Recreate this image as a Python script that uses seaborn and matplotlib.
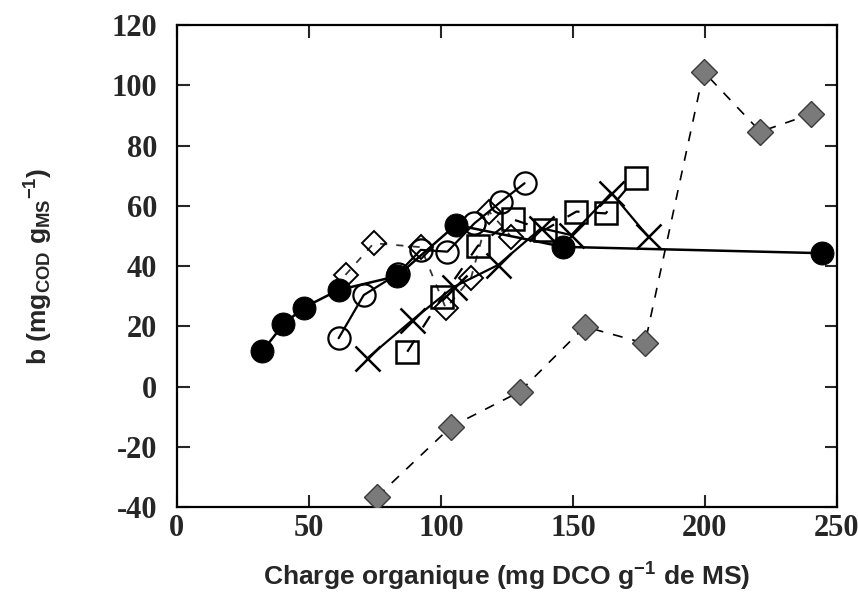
import numpy as np
import pandas as pd
import matplotlib
matplotlib.use('Agg')
import matplotlib.pyplot as plt
import seaborn as sns

# Data
filled_circ_x = [32.4, 40.4, 48.0, 61.3, 83.5, 105.7, 146.3, 244.2]
filled_circ_y = [11.8, 20.7, 26.2, 32.1, 36.7, 53.7, 46.4, 44.3]

open_circ_x = [61.3, 70.8, 83.6, 92.4, 102.5, 112.7, 122.8, 131.7]
open_circ_y = [16.1, 30.4, 37.4, 45.4, 44.8, 54.2, 61.4, 67.5]

cross_x = [72.1, 89.2, 104.9, 121.7, 138.0, 149.4, 164.6, 178.3]
cross_y = [9.4, 22.1, 33.1, 40.4, 52.6, 50.3, 64.3, 50.0]

square_x = [87.3, 100.6, 114.0, 127.3, 139.3, 151.3, 162.4, 173.9]
square_y = [11.6, 29.9, 46.7, 55.5, 52.0, 58.1, 57.5, 69.3]

open_diam_x = [63.9, 74.6, 92.4, 101.9, 111.4, 118.3, 126.6]
open_diam_y = [37.1, 47.6, 46.3, 26.0, 36.0, 58.1, 49.8]

grey_diam_x = [75.9, 103.8, 129.8, 154.5, 177.3, 199.5, 221.0, 240.0]
grey_diam_y = [-36.5, -13.3, -1.7, 19.9, 14.4, 104.5, 84.6, 90.4]

x_ticks = [0, 50, 100, 150, 200, 250]
y_ticks = [-40, -20, 0, 20, 40, 60, 80, 100, 120]

sns.set_style("ticks")
plt.rcParams['mathtext.default'] = 'regular'
plt.rcParams['axes.unicode_minus'] = False

fig = plt.figure(figsize=(8.58, 6.05), dpi=100)
ax = fig.add_axes([0.206, 0.1615, 0.7695, 0.7972])

ms = 16
# grey diamonds, dashed
sns.lineplot(x=grey_diam_x, y=grey_diam_y, ax=ax, color='black', lw=1.2,
             linestyle=(0, (6, 6)), marker='D', markersize=13.5,
             markerfacecolor='#7a7a7a', markeredgecolor='#3a3a3a',
             markeredgewidth=1.0, zorder=3)
# open diamonds, dashed
sns.lineplot(x=open_diam_x, y=open_diam_y, ax=ax, color='#333333', lw=1.3,
             linestyle=(0, (4, 5)), marker='D', markersize=12.5,
             markerfacecolor='none', markeredgecolor='black',
             markeredgewidth=1.4, zorder=3)
# open squares
sns.lineplot(x=square_x, y=square_y, ax=ax, color='black', lw=1.6,
             linestyle=(0, (6, 7)), marker='s', markersize=ms,
             markerfacecolor='none', markeredgecolor='black',
             markeredgewidth=1.8, zorder=4)
# crosses
sns.lineplot(x=cross_x, y=cross_y, ax=ax, color='black', lw=1.6,
             marker='x', markersize=18, markeredgewidth=1.8,
             markeredgecolor='black', zorder=4)
# open circles
sns.lineplot(x=open_circ_x, y=open_circ_y, ax=ax, color='black', lw=1.6,
             marker='o', markersize=ms, markerfacecolor='none',
             markeredgecolor='black', markeredgewidth=1.6, zorder=4)
# filled circles
sns.lineplot(x=filled_circ_x, y=filled_circ_y, ax=ax, color='black', lw=1.8,
             marker='o', markersize=ms + 0.5, markerfacecolor='black',
             markeredgecolor='black', zorder=5)

ax.set_xlim(0, 250)
ax.set_ylim(-40, 120)
ax.set_xticks(x_ticks)
ax.set_yticks(y_ticks)
ax.tick_params(direction='in', length=9, width=1.5, top=True, right=True)
ax.tick_params(axis='x', pad=5)
ax.tick_params(axis='y', pad=14)
for lab in ax.get_xticklabels() + ax.get_yticklabels():
    lab.set_fontfamily('Liberation Serif')
    lab.set_fontweight('bold')
    lab.set_fontsize(22)
for sp in ax.spines.values():
    sp.set_linewidth(1.6)
    sp.set_color('black')

ax.set_xlabel('Charge organique (mg DCO g$^{-1}$ de MS)', fontsize=19,
              fontweight='bold', family='Liberation Sans', labelpad=13)
ax.set_ylabel('b (mg$_{COD}$ g$_{MS}$$^{-1}$)', fontsize=19,
              fontweight='bold', family='Liberation Sans', labelpad=41)

fig.savefig('out.png', dpi=100)
